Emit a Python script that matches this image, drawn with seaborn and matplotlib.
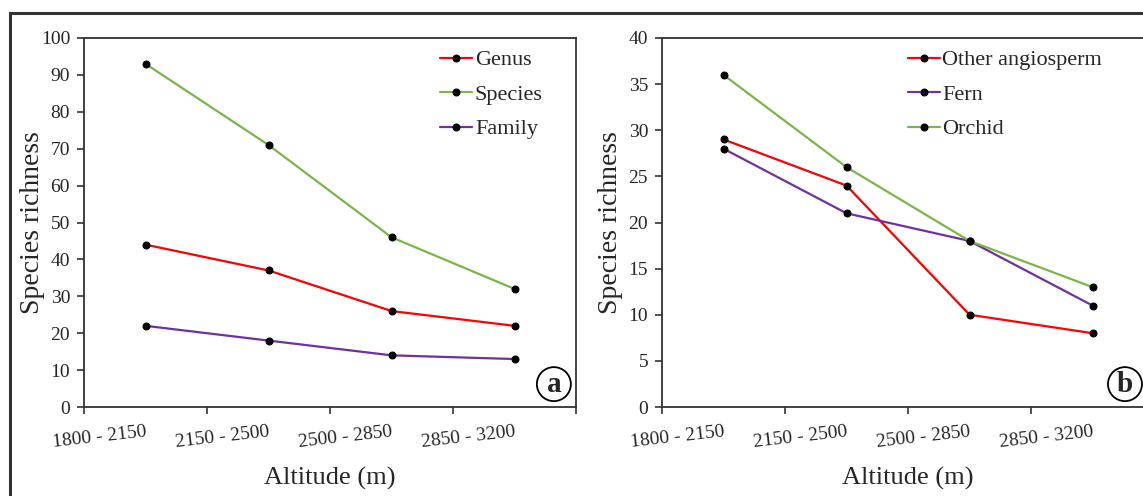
import pandas as pd
import matplotlib
matplotlib.use("Agg")
import matplotlib.pyplot as plt
from matplotlib.patches import Rectangle
import seaborn as sns

# altitude classes shared by both panels
altitudes = ["1800 - 2150", "2150 - 2500", "2500 - 2850", "2850 - 3200"]

# panel a
genus = [44, 37, 26, 22]
species = [93, 71, 46, 32]
family = [22, 18, 14, 13]

# panel b
other_angiosperm = [29, 24, 10, 8]
fern = [28, 21, 18, 11]
orchid = [36, 26, 18, 13]

RED = "#FF0000"
GREEN = "#7AB648"
PURPLE = "#7030A0"

sns.set_style("ticks")
plt.rcParams["font.family"] = ["Liberation Serif", "DejaVu Serif"]


def long_table(series):
    rows = []
    for name, values in series.items():
        for alt, v in zip(altitudes, values):
            rows.append({"Altitude": alt, "Group": name, "Richness": v})
    return pd.DataFrame(rows)


def draw_panel(ax, series, colors, ymax, ystep, letter, leg_x, letter_x):
    df = long_table(series)
    sns.lineplot(data=df, x="Altitude", y="Richness", hue="Group",
                 hue_order=list(series.keys()), palette=colors, ax=ax,
                 marker="o", markersize=5, markerfacecolor="black",
                 markeredgecolor="black", linewidth=1.6, legend=False,
                 sort=False)
    ax.set_xlim(-0.5, len(altitudes) - 0.5)
    ax.set_ylim(0, ymax)
    ax.set_yticks(range(0, ymax + 1, ystep))
    ax.set_xticks(range(len(altitudes)))
    ax.set_xticklabels(altitudes, rotation=6.5, ha="right",
                       rotation_mode="anchor", fontsize=14)
    ax.set_xticks([i - 0.5 for i in range(len(altitudes) + 1)], minor=True)
    ax.tick_params(axis="x", which="major", length=0, pad=12)
    ax.tick_params(axis="x", which="minor", length=5, width=1.2,
                   direction="out", color="#333333")
    ax.tick_params(axis="y", length=5, width=1.2, labelsize=14,
                   color="#333333", pad=5)
    for sp in ax.spines.values():
        sp.set_linewidth(1.3)
        sp.set_color("#333333")
    ax.set_xlabel("Altitude (m)", fontsize=19)
    ax.set_ylabel("Species richness", fontsize=20)
    ax.xaxis.set_label_coords(0.5, -0.163)
    ax.yaxis.set_label_coords(-0.079, 0.5)

    lines = ax.get_lines()[:len(series)]
    ax.legend(lines, list(series.keys()), loc="upper left",
              bbox_to_anchor=(leg_x, 0.968), frameon=False, fontsize=16,
              borderpad=0, borderaxespad=0, handlelength=1.45,
              handletextpad=0.12, labelspacing=0.63)

    ax.text(letter_x, 0.062, letter, transform=ax.transAxes, fontsize=21,
            fontweight="bold", ha="center", va="center",
            bbox=dict(boxstyle="circle,pad=0.12", fc="white",
                      ec="black", lw=1.3))


fig = plt.figure(figsize=(11.43, 4.96), dpi=100)
W, H = 1143.0, 496.0
ax_a = fig.add_axes([84 / W, (H - 407) / H, 492 / W, 369 / H])
ax_b = fig.add_axes([662 / W, (H - 407) / H, 492 / W, 369 / H])

draw_panel(ax_a, {"Genus": genus, "Species": species, "Family": family},
           [RED, GREEN, PURPLE], 100, 10, "a", 0.7236, 0.955)
draw_panel(ax_b, {"Other angiosperm": other_angiosperm, "Fern": fern,
                  "Orchid": orchid},
           [RED, PURPLE, GREEN], 40, 5, "b", 0.499, 0.941)

# outer frame of the original figure (cropped on the right and bottom)
fig.patches.append(Rectangle((10 / W, -0.1), 1.2, (H - 13) / H + 0.1,
                             transform=fig.transFigure, fill=False,
                             lw=2.2, ec="#333333"))

fig.savefig("out.png", dpi=100)
